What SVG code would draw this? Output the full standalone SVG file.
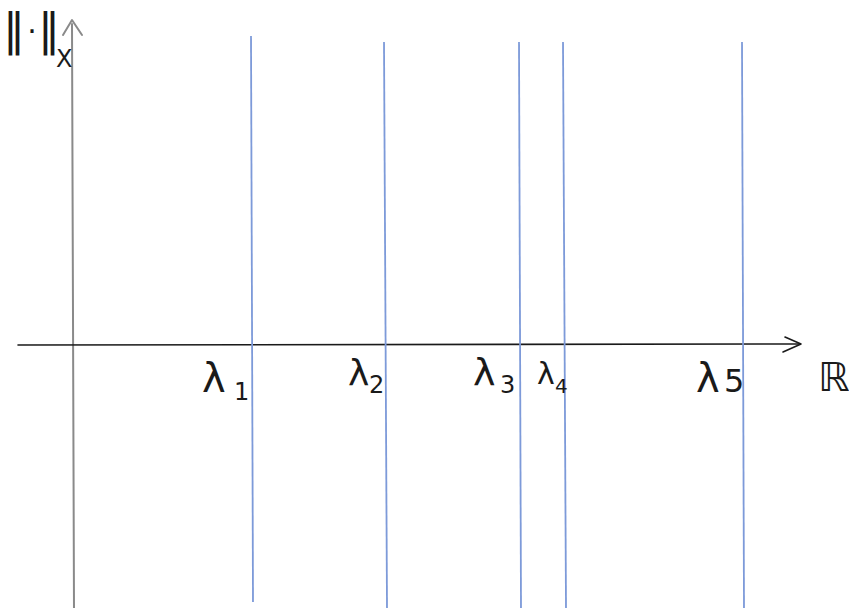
<svg xmlns="http://www.w3.org/2000/svg" width="849" height="608" viewBox="0 0 849 608">
<style>
.ax{stroke:#1a1a1a;stroke-width:1.6;fill:none;stroke-linecap:round;stroke-linejoin:round}
.ay{stroke:#8a8a8a;stroke-width:2;fill:none;stroke-linecap:round;stroke-linejoin:round}
.ev{stroke:#7d9ad9;stroke-width:1.8;fill:none}
.lb{font-family:"DejaVu Sans",sans-serif;fill:#1a1a1a}
.c{text-anchor:middle}
</style>
<rect width="849" height="608" fill="#fff"/>
<g id="connectors">
<line class="ay" x1="72" y1="24" x2="74" y2="608"/>
<polyline class="ay" points="63,35 72,20 82,35"/>
<line class="ax" x1="18" y1="345" x2="800" y2="344"/>
<polyline class="ax" points="785,337 801,344 783,352"/>
<line class="ev" x1="251" y1="36" x2="253" y2="602"/>
<line class="ev" x1="384" y1="42" x2="387" y2="608"/>
<line class="ev" x1="519" y1="42" x2="521" y2="608"/>
<line class="ev" x1="563" y1="42" x2="566" y2="608"/>
<line class="ev" x1="742" y1="42" x2="744" y2="608"/>
</g>
<g id="label-norm"><text class="lb c" x="14" y="45" font-size="44">‖</text><text class="lb c" x="32" y="42" font-size="30">·</text><text class="lb c" x="49" y="45" font-size="44">‖</text><text class="lb" x="56" y="67" font-size="24">X</text></g>
<g id="label-l1"><text class="lb" x="202" y="392" font-size="40">λ</text><text class="lb" x="234" y="400" font-size="24">1</text></g>
<g id="label-l2"><text class="lb" x="348" y="385" font-size="36">λ</text><text class="lb" x="369" y="393" font-size="24">2</text></g>
<g id="label-l3"><text class="lb" x="473" y="385" font-size="38">λ</text><text class="lb" x="500" y="393" font-size="24">3</text></g>
<g id="label-l4"><text class="lb" x="537" y="384" font-size="30">λ</text><text class="lb" x="555" y="393" font-size="20">4</text></g>
<g id="label-l5"><text class="lb" x="696" y="392" font-size="40">λ</text><text class="lb" x="724" y="392" font-size="32">5</text></g>
<g id="label-R"><text class="lb" x="818" y="391" font-size="40">ℝ</text></g>
</svg>
